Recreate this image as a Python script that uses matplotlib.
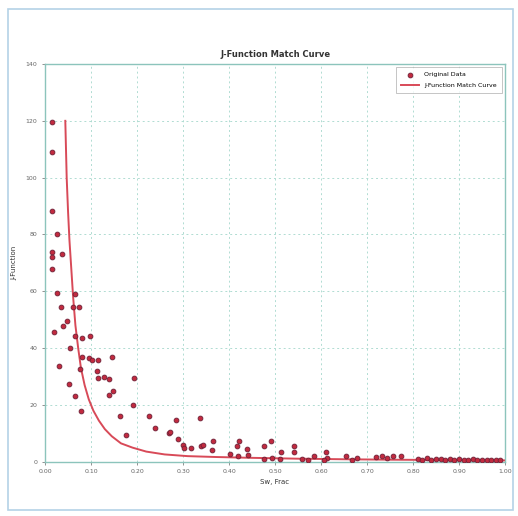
import matplotlib
matplotlib.use('Agg')
import matplotlib.pyplot as plt
from matplotlib.patches import Rectangle

# measured points (Sw fraction, J value)
data_sw = [0.0145, 0.0145, 0.0145, 0.0145, 0.0145, 0.0145, 0.025, 0.036,
           0.027, 0.064, 0.034, 0.0616, 0.074, 0.047, 0.038, 0.020, 0.064,
           0.080, 0.098, 0.054, 0.080, 0.096, 0.103, 0.114, 0.145, 0.031,
           0.076, 0.112, 0.116, 0.128, 0.138, 0.193, 0.051, 0.065, 0.140,
           0.148, 0.078, 0.191, 0.163, 0.225, 0.238, 0.175, 0.270, 0.284,
           0.337, 0.272, 0.288, 0.300, 0.302, 0.317, 0.338, 0.344, 0.362,
           0.366, 0.402, 0.422, 0.418, 0.420, 0.438, 0.442, 0.475, 0.491,
           0.475, 0.493, 0.513, 0.541, 0.541, 0.511, 0.558, 0.572, 0.585,
           0.611, 0.612, 0.607, 0.654, 0.667, 0.679, 0.720, 0.732, 0.743,
           0.756, 0.773, 0.81, 0.82, 0.83, 0.84, 0.85, 0.86, 0.87, 0.88,
           0.89, 0.90, 0.91, 0.92, 0.93, 0.94, 0.95, 0.96, 0.97, 0.98, 0.99]
data_j = [119.6, 109, 88.4, 74, 72, 68, 80, 73,
          59.4, 59, 54.5, 54.5, 54.5, 49.6, 47.8, 45.6, 44.3,
          43.6, 44.3, 40.1, 37, 36.4, 35.8, 35.8, 37, 33.8,
          32.5, 32, 29.4, 30, 29.2, 29.4, 27.4, 23, 23.5,
          25, 18, 20, 16, 16, 12, 9.5, 10, 14.7,
          15.3, 10.6, 8.1, 6, 4.8, 4.8, 5.6, 6, 4,
          7.5, 2.8, 7.5, 5.6, 2.1, 4.5, 2.5, 5.6, 7.5,
          0.9, 1.2, 3.6, 5.6, 3.6, 1, 1, 0.5, 1.9,
          3.6, 1.3, 0.5, 2.1, 0.5, 1.3, 1.6, 1.9, 1.3,
          1.9, 1.9, 1.0, 0.8, 1.2, 0.7, 0.9, 1.1, 0.6, 0.9,
          0.7, 1.0, 0.6, 0.8, 0.9, 0.6, 0.7, 0.8, 0.5, 0.7, 0.6]

# match curve
curve_sw = [0.044, 0.047, 0.050, 0.053, 0.057, 0.061, 0.066, 0.072, 0.078,
            0.086, 0.095, 0.105, 0.117, 0.130, 0.145, 0.165, 0.19, 0.22,
            0.26, 0.31, 0.37, 0.45, 0.55, 0.65, 0.75, 0.85, 1.00]
curve_j = [120, 100, 88, 78, 68, 58, 48, 40, 33,
           27, 22, 18, 14.5, 11.5, 9, 6.5, 5.0, 3.6,
           2.6, 2.0, 1.7, 1.4, 1.1, 0.9, 0.75, 0.65, 0.5]

x_ticks = [0.0, 0.1, 0.2, 0.3, 0.4, 0.5, 0.6, 0.7, 0.8, 0.9, 1.0]
y_ticks = [0, 20, 40, 60, 80, 100, 120, 140]

fig = plt.figure(figsize=(5.18, 5.16), dpi=100)
ax = fig.add_axes([0.087, 0.105, 0.888, 0.771])

ax.plot(curve_sw, curve_j, color='#d84a58', lw=1.4, label='J-Function Match Curve', zorder=3)
ax.scatter(data_sw, data_j, s=12, color='#c22a3f', edgecolors='#6e2036', linewidths=0.6,
           label='Original Data', zorder=4)

ax.set_xlim(0, 1)
ax.set_ylim(0, 140)
ax.set_xticks(x_ticks)
ax.set_yticks(y_ticks)
ax.set_xticklabels([f'{t:.2f}' for t in x_ticks])
ax.tick_params(labelsize=4.5, colors='#666666', length=2, width=0.5)
ax.grid(True, color='#b0dcd2', linestyle=(0, (2, 3)), lw=0.7)

for s in ax.spines.values():
    s.set_color('#8cc4bc')
    s.set_linewidth(1.0)

ax.set_title('J-Function Match Curve', fontsize=6, fontweight='bold', color='#333333', pad=5)
ax.set_xlabel('Sw, Frac', fontsize=5, color='#333333', labelpad=3)
ax.set_ylabel('J-Function', fontsize=5, color='#333333', labelpad=6)

handles, labels = ax.get_legend_handles_labels()
leg = ax.legend(handles[::-1], labels[::-1], loc='upper right', fontsize=4.5,
                frameon=True, fancybox=False, edgecolor='#aaaaaa', handlelength=3,
                borderpad=0.8, labelspacing=0.9)
leg.get_frame().set_linewidth(0.6)

fig.patches.append(Rectangle((0.015, 0.012), 0.975, 0.97, transform=fig.transFigure,
                             fill=False, edgecolor='#b4d2e6', lw=1.2))

fig.savefig('out.png', dpi=100)
